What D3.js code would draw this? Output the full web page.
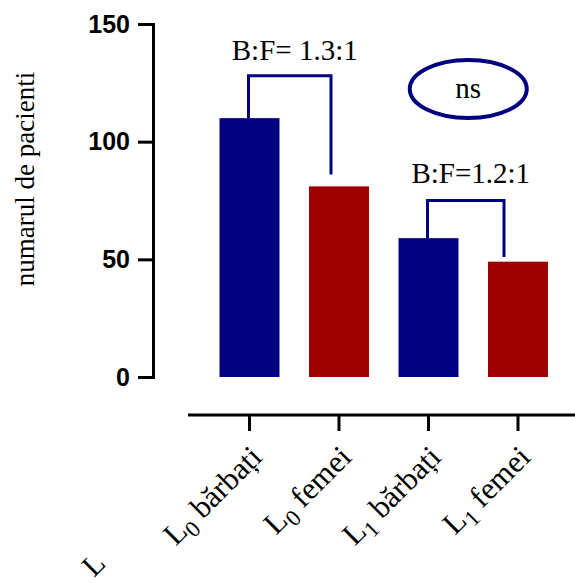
<!DOCTYPE html>
<html lang="en">
<head>
  <meta charset="UTF-8">
  <title>numarul de pacienti</title>
  <style>
    body { margin: 0; background: #fff; }
  </style>
</head>
<body>
  <svg id="svg" width="575" height="583"></svg>

  <script src="https://d3js.org/d3.v7.min.js"></script>
  <script>
    // ---- DATA ----
    const groups = ['L0b', 'L0f', 'L1b', 'L1f']
    const labelMain = ['L', 'L', 'L', 'L']
    const labelSub = ['0', '0', '1', '1']
    const labelRest = [' bărbați', ' femei', ' bărbați', ' femei']
    const counts = [110, 81, 59, 49]
    const barColors = ['#000080', '#a00000', '#000080', '#a00000']
    const yTicks = [0, 50, 100, 150]

    // brackets: left bar, right bar, bracket top, right leg end (data units)
    const bracketFrom = ['L0b', 'L1b']
    const bracketTo = ['L0f', 'L1f']
    const bracketTop = [128, 75]
    const bracketEnd = [86, 51]
    const bracketText = ['B:F= 1.3:1', 'B:F=1.2:1']
    const bracketTextY = [134.7, 82.5]

    // ---- CONSTANTS ----
    const navy = '#000080'
    const serif = "'Liberation Serif', 'Times New Roman', serif"
    const svg = d3.select('#svg')

    // ---- SCALES ----
    const xscale = d3.scaleBand()
      .domain(groups)
      .range([204.75, 562.75])
      .paddingInner(0.33)
      .paddingOuter(0.165)

    const yscale = d3.scaleLinear()
      .domain([0, 150])
      .range([377, 24])

    const cx = g => xscale(g) + xscale.bandwidth() / 2

    // ---- BARS ----
    svg.append('g')
      .selectAll('rect')
      .data(groups)
      .enter()
      .append('rect')
      .attr('x', d => xscale(d))
      .attr('y', (d, i) => yscale(counts[i]))
      .attr('width', xscale.bandwidth())
      .attr('height', (d, i) => yscale(0) - yscale(counts[i]))
      .attr('fill', (d, i) => barColors[i])

    // ---- Y AXIS ----
    const leftAxis = d3.axisLeft(yscale)
      .tickValues(yTicks)
      .tickSize(15)
      .tickSizeOuter(0)
      .tickPadding(8)

    const yg = svg.append('g')
      .attr('transform', 'translate(153, 0)')
      .call(leftAxis)
    yg.select('.domain').attr('stroke-width', 3).attr('stroke-linecap', 'square')
    yg.selectAll('.tick line').attr('stroke-width', 3)
    yg.selectAll('.tick text')
      .style('font-family', "'Liberation Sans', Arial, sans-serif")
      .style('font-weight', 'bold')
      .style('font-size', '25px')
      .attr('fill', '#000')

    // y label
    svg.append('text')
      .attr('transform', 'translate(34, 179) rotate(-90)')
      .attr('text-anchor', 'middle')
      .style('font-family', serif)
      .style('font-size', '27px')
      .text('numarul de pacienti')

    // ---- X AXIS ----
    const bottomAxis = d3.axisBottom(xscale)
      .tickSize(16)
      .tickSizeOuter(0)
      .tickFormat('')

    const xg = svg.append('g')
      .attr('transform', 'translate(0, 415)')
      .call(bottomAxis)
    xg.select('.domain').remove()
    xg.selectAll('.tick line').attr('stroke-width', 3)
    xg.append('line')
      .attr('x1', 188)
      .attr('x2', 575)
      .attr('stroke', '#000')
      .attr('stroke-width', 3)

    // rotated tick labels with subscripts
    const labels = svg.append('g')
      .selectAll('text')
      .data(groups)
      .enter()
      .append('text')
      .attr('transform', d => `translate(${cx(d) + 14}, 459) rotate(-45)`)
      .attr('text-anchor', 'end')
      .style('font-family', serif)
      .style('font-size', '31px')

    labels.append('tspan').text((d, i) => labelMain[i])
    labels.append('tspan')
      .attr('dy', 7)
      .style('font-size', '23px')
      .text((d, i) => labelSub[i])
    labels.append('tspan')
      .attr('dy', -7)
      .text((d, i) => labelRest[i])

    // stray axis title fragment
    svg.append('text')
      .attr('transform', 'translate(94, 578) rotate(-45)')
      .style('font-family', serif)
      .style('font-size', '30px')
      .text('L')

    // ---- BRACKETS ----
    const bracketOffset = [-8, -14]
    bracketFrom.forEach((g, i) => {
      const xl = cx(g) - 1
      const xr = cx(bracketTo[i]) + bracketOffset[i]
      const leftVal = counts[groups.indexOf(g)]
      svg.append('path')
        .attr('d', d3.line()([
          [xl, yscale(leftVal)],
          [xl, yscale(bracketTop[i])],
          [xr, yscale(bracketTop[i])],
          [xr, yscale(bracketEnd[i])]
        ]))
        .attr('fill', 'none')
        .attr('stroke', navy)
        .attr('stroke-width', 3)

      svg.append('text')
        .attr('x', (xl + xr) / 2 + 5)
        .attr('y', yscale(bracketTextY[i]))
        .attr('text-anchor', 'middle')
        .style('font-family', serif)
        .style('font-size', '29px')
        .text(bracketText[i])
    })

    // ---- NS ELLIPSE ----
    const nsX = (cx('L1b') + cx('L1f')) / 2 - 5
    svg.append('ellipse')
      .attr('cx', nsX)
      .attr('cy', yscale(122.4))
      .attr('rx', 58.5)
      .attr('ry', 29)
      .attr('fill', 'none')
      .attr('stroke', navy)
      .attr('stroke-width', 4)
    svg.append('text')
      .attr('x', nsX)
      .attr('y', yscale(122.4) + 9)
      .attr('text-anchor', 'middle')
      .style('font-family', serif)
      .style('font-size', '29px')
      .text('ns')
  </script>
</body>
</html>
